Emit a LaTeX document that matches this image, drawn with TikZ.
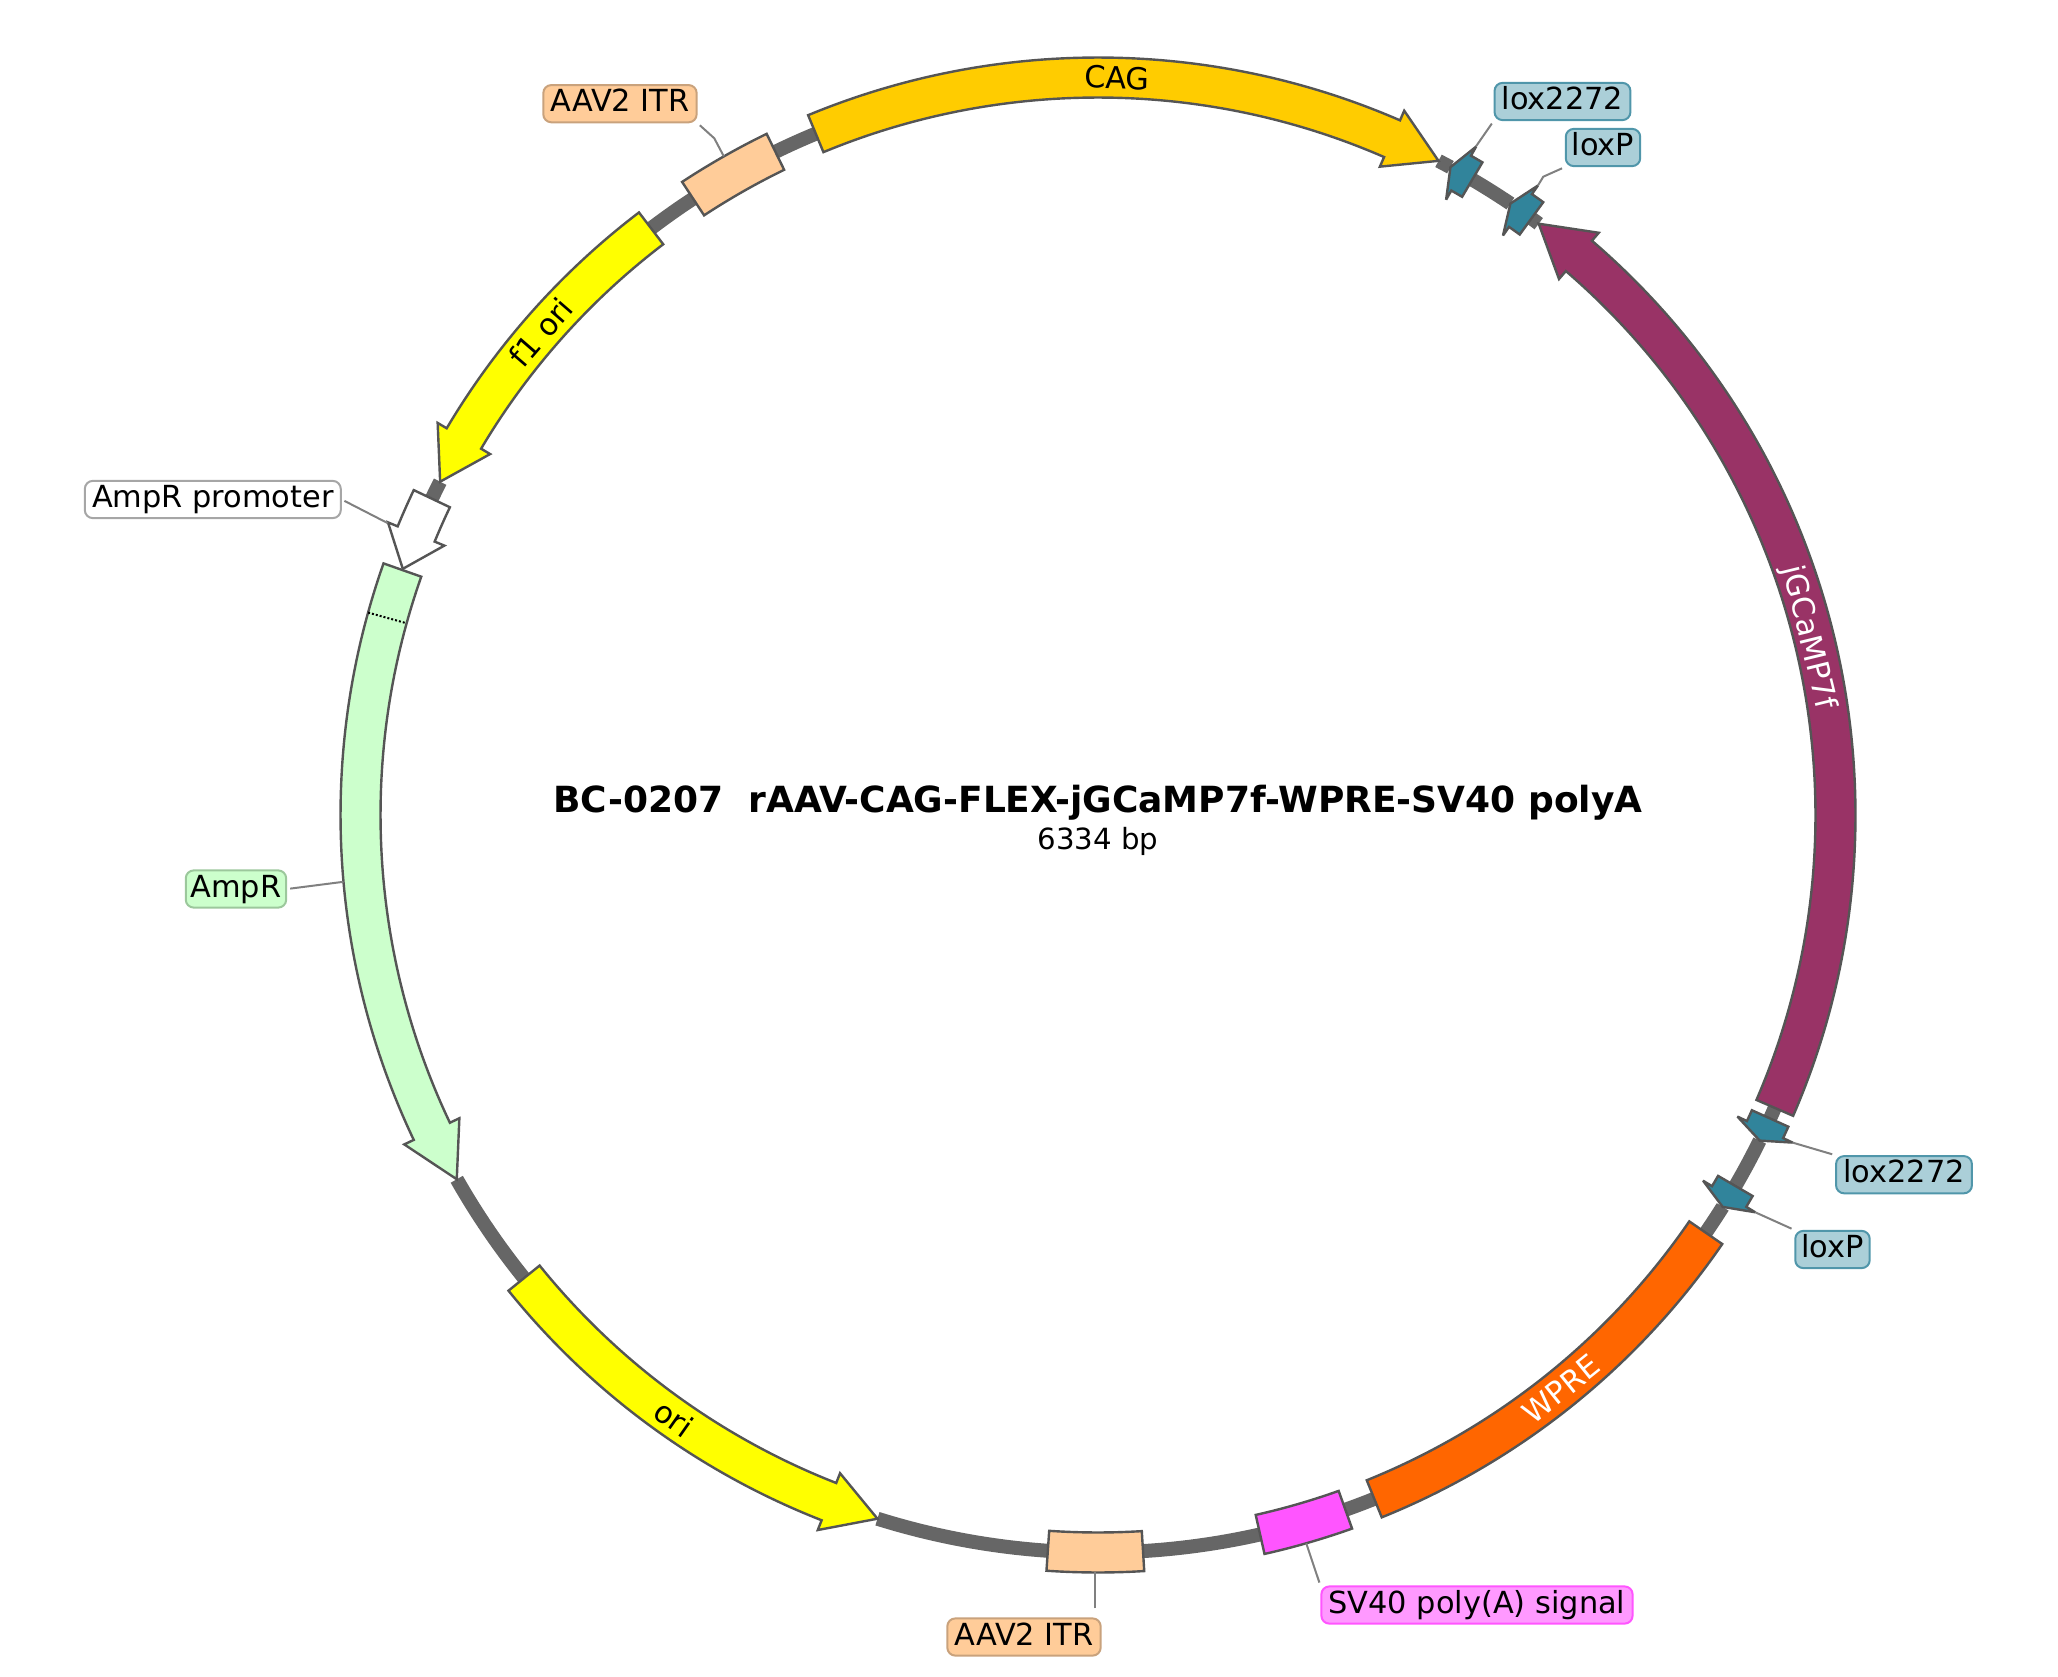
\documentclass[tikz,border=0pt]{standalone}
\usepackage{fontspec}
\setmainfont{DejaVu Sans}
\usepackage{tikz}
\usetikzlibrary{shapes,arrows,positioning}

\definecolor{outline}{HTML}{555555}
\definecolor{spine}{HTML}{666666}
\definecolor{loxcol}{HTML}{31849B}
\definecolor{loxlight}{HTML}{ABCFD8}
\definecolor{itrcol}{HTML}{FFCC99}
\definecolor{itredge}{HTML}{C9A27C}
\definecolor{amprcol}{HTML}{CCFFCC}
\definecolor{ampredge}{HTML}{9CC89C}
\definecolor{sv40col}{HTML}{FF55FF}
\definecolor{sv40light}{HTML}{FF99FF}
\definecolor{cagcol}{HTML}{FFCC00}
\definecolor{oricol}{HTML}{FFFF00}
\definecolor{gcampcol}{HTML}{993366}
\definecolor{wprecol}{HTML}{FF6600}

\def\rmid{368.75pt}
\def\router{378.75pt}
\def\rinner{358.75pt}
\def\rbarbo{384pt}
\def\rbarbi{353.5pt}

% feature with a head: tail angle, head base angle, tip angle, style
\newcommand{\featarrow}[4]{\draw[feat,#4] (#1:\router) arc[start angle=#1,end angle=#2,radius=\router] -- (#2:\rbarbo) -- (#3:\rmid) -- (#2:\rbarbi) -- (#2:\rinner) arc[start angle=#2,end angle=#1,radius=\rinner] -- cycle;}
% feature without a head: two angles, style
\newcommand{\featbox}[3]{\draw[feat,#3] (#1:\router) arc[start angle=#1,end angle=#2,radius=\router] -- (#2:\rinner) arc[start angle=#2,end angle=#1,radius=\rinner] -- cycle;}

\tikzset{
  feat/.style={draw=outline,line width=1.2pt,line join=miter,miter limit=4},
  spineseg/.style={draw=spine,line width=7pt},
  leader/.style={draw=gray,line width=1pt,shorten <=1.5pt},
  tag/.style={rectangle,rounded corners=4pt,line width=1pt,inner xsep=3.6pt,inner ysep=1.9pt,
    text height=11.4pt,text depth=3.4pt,font=\fontsize{15.2}{18}\selectfont,text=black},
  loxtag/.style={tag,fill=loxlight,draw=loxcol!85},
  itrtag/.style={tag,fill=itrcol,draw=itredge},
  amprtag/.style={tag,fill=amprcol,draw=ampredge,inner xsep=2.4pt},
  sv40tag/.style={tag,fill=sv40light,draw=sv40col},
  promtag/.style={tag,fill=white,draw=gray!70},
  featname/.style={font=\fontsize{15.2}{18}\selectfont,text=black},
}

\begin{document}
\begin{tikzpicture}[x=0.5pt,y=0.5pt]
\useasboundingbox (-1098,-862) rectangle (960,815);

%Backbone
\foreach \a/\b in {62.5/61.45,59.5/56,54/53.3,112.5/115.94,123.3/127.3,153.13/154.6,209.6/218.9,252.6/266.1,273.5/282.7,289.6/292,325.5/327.9,329.8/333.8,335.7/336.6}
\draw[spineseg] (\a:\rmid) arc[start angle=\a,end angle=\b,radius=\rmid];

%Features
\featarrow{112.5}{66.5}{62.5}{fill=cagcol}
\featarrow{59.5}{60.5}{61.45}{fill=loxcol}
\featarrow{54}{55.05}{56}{fill=loxcol}
\featarrow{-23.4}{49.3}{53.3}{fill=gcampcol}
\featarrow{-24.3}{-25.25}{-26.2}{fill=loxcol}
\featarrow{-30.2}{-31.15}{-32.1}{fill=loxcol}
\featbox{-34.5}{-68}{fill=wprecol}
\featbox{-70.4}{-77.3}{fill=sv40col}
\featbox{266.1}{273.5}{fill=itrcol}
\featarrow{218.9}{248.6}{252.6}{fill=oricol}
\featarrow{160.6}{205.4}{209.6}{fill=amprcol}
\featarrow{154.6}{157.6}{160.5}{fill=white}
\featarrow{127.3}{149.3}{153.13}{fill=oricol}
\featbox{115.94}{123.3}{fill=itrcol}
\draw[densely dotted,line width=1pt,black] (164.5:\router) -- (164.5:\rinner);

%Names on the features
\node[featname,rotate=-1.5] (cagname) at (88.5:\rmid) {CAG};
\node[featname,rotate=49.1] (f1name) at (139.1:\rmid) {f1 ori};
\node[featname,rotate=-76.3,text=white] (gcampname) at (14:366pt) {jGCaMP7f};
\node[featname,rotate=-35.1] (oriname) at (234.9:\rmid) {ori};
\node[featname,rotate=38.9,text=white] (wprename) at (-51.1:\rmid) {WPRE};

%Labels
\node[loxtag] (loxa) at (464.5,713.5) {lox2272};
\node[loxtag,inner xsep=3pt] (loxpa) at (505,667.5) {loxP};
\node[loxtag] (loxb) at (806,-359.7) {lox2272};
\node[loxtag,inner xsep=3pt] (loxpb) at (734.5,-434.5) {loxP};
\node[itrtag] (itra) at (-478,711.3) {AAV2 ITR};
\node[itrtag] (itrb) at (-74,-822) {AAV2 ITR};
\node[promtag] (prom) at (-885.2,315.5) {AmpR promoter};
\node[amprtag] (ampr) at (-862,-74) {AmpR};
\node[sv40tag] (sv40) at (379,-790) {SV40 poly(A) signal};

%Leaders
\coordinate (loxaend) at (60.52:\rbarbo);
\coordinate (loxpaend) at (55.05:\rbarbo);
\coordinate (loxpabend) at (445.3,638.3);
\coordinate (loxbend) at (-25.25:\rbarbo);
\coordinate (loxpbend) at (-31.15:\rbarbo);
\coordinate (itraend) at (119.6:\router);
\coordinate (itrabend) at (-383.7,676.7);
\coordinate (itrbend) at (-90.2:\router);
\coordinate (promend) at (157.66:\rbarbo);
\coordinate (amprend) at (185.06:\router);
\coordinate (sv40end) at (-74.04:\router);
\coordinate (sv40bend) at (214.5,-747);
\draw[leader] (loxa.south west) -- (loxaend);
\draw[leader] (loxpa.south west) -- (loxpabend) -- (loxpaend);
\draw[leader] (loxb.north west) -- (loxbend);
\draw[leader] (loxpb.north west) -- (loxpbend);
\draw[leader] (itra.south east) -- (itrabend) -- (itraend);
\draw[leader,shorten <=4.5pt] (itrb.north -| itrbend) -- (itrbend);
\draw[leader] (prom.east) -- (promend);
\draw[leader] (ampr.east) -- (amprend);
\draw[leader] (sv40.north west) -- (sv40bend) -- (sv40end);

%Title
\node[font=\bfseries\fontsize{18}{20}\selectfont] (title) at (0,12) {BC-0207\ \ rAAV-CAG-FLEX-jGCaMP7f-WPRE-SV40 polyA};
\node[font=\fontsize{14.6}{18}\selectfont,below=-3.5pt of title] (size) {6334 bp};

\end{tikzpicture}
\end{document}
